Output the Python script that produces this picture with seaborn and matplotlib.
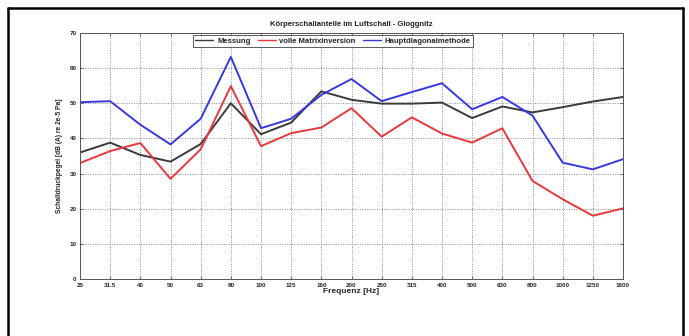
import matplotlib
matplotlib.use("Agg")
import matplotlib.pyplot as plt
from matplotlib.lines import Line2D
import seaborn as sns
import pandas as pd

# Terzband-Mittenfrequenzen
freq_labels = ["25", "31.5", "40", "50", "63", "80", "100", "125", "160", "200",
               "250", "315", "400", "500", "630", "800", "1000", "1250", "1600"]

messung = [36.0, 38.8, 35.3, 33.4, 38.4, 50.0, 41.2, 44.5, 53.4, 51.0,
           49.9, 49.9, 50.2, 45.8, 49.1, 47.4, 48.9, 50.5, 51.8]
matrixinversion = [33.0, 36.4, 38.7, 28.5, 36.9, 54.9, 37.8, 41.5, 43.1, 48.6,
                   40.5, 46.0, 41.4, 38.8, 42.9, 27.9, 22.7, 18.0, 20.1]
hauptdiagonal = [50.3, 50.6, 43.9, 38.3, 45.6, 63.2, 42.9, 45.6, 52.4, 56.9,
                 50.6, 53.2, 55.7, 48.3, 51.8, 46.5, 33.1, 31.2, 34.1]

series_names = ["Messung", "volle Matrixinversion", "Hauptdiagonalmethode"]
series_colors = ["#3a3a3a", "#e8383c", "#3838e0"]

pos = list(range(len(freq_labels)))
df = pd.DataFrame({
    "pos": pos * 3,
    "Pegel": messung + matrixinversion + hauptdiagonal,
    "Reihe": [series_names[0]] * len(pos) + [series_names[1]] * len(pos)
             + [series_names[2]] * len(pos),
})

sns.set_theme(style="white")
plt.rcParams["font.family"] = ["Liberation Sans", "DejaVu Sans"]

fig = plt.figure(figsize=(6.89, 3.36), dpi=100)
fig.patch.set_facecolor("white")
ax = fig.add_axes([80 / 689, 1 - 279 / 336, 543 / 689, 246 / 336])

sns.lineplot(data=df, x="pos", y="Pegel", hue="Reihe", hue_order=series_names,
             palette=series_colors, linewidth=1.4, ax=ax, legend=False)

ax.set_xlim(0, len(freq_labels) - 1)
ax.set_ylim(0, 70)
ax.set_xticks(pos)
ax.set_xticklabels(freq_labels, fontsize=4.5, fontweight="bold")
ax.set_yticks(range(0, 71, 10))
ax.set_yticklabels([str(v) for v in range(0, 71, 10)], fontsize=4.5, fontweight="bold")
ax.tick_params(axis="both", length=2, width=0.5, color="#444444")
ax.tick_params(axis="x", direction="in", top=True, bottom=True, pad=3)
ax.tick_params(axis="y", direction="in", left=True, right=True, pad=2.5)
ax.grid(True, linestyle=(0, (1.0, 1.5)), linewidth=0.7, color="#8a8a8a")
for s in ax.spines.values():
    s.set_color("#555555")
    s.set_linewidth(0.7)

ax.set_xlabel("Frequenz [Hz]", fontsize=6, fontweight="bold", labelpad=0)
ax.set_ylabel("Schalldruckpegel [dB (A) re 2e-5 Pa]", fontsize=4.8,
              fontweight="bold", labelpad=5)
ax.set_title("Körperschallanteile im Luftschall - Gloggnitz", fontsize=5.5,
             fontweight="bold", pad=5, color="#222222")

handles = [Line2D([0], [0], color=c, linewidth=1.0) for c in series_colors]
leg = ax.legend(handles, series_names, loc="upper center", ncol=3,
                bbox_to_anchor=(0.466, 1.0), frameon=True,
                fancybox=False, edgecolor="#333333", handlelength=2.3,
                columnspacing=0.9, handletextpad=0.5, borderpad=0.3,
                borderaxespad=0.25, prop={"size": 5.6, "weight": "bold"})
leg.get_frame().set_linewidth(0.7)

# Rahmen um die Abbildung (oben, links, rechts)
frame_kw = dict(color="black", linewidth=1.8, transform=fig.transFigure)
x0, x1 = 7.5 / 689, 682.5 / 689
y_top = 1 - 7.5 / 336
fig.add_artist(Line2D([x0, x1], [y_top, y_top], **frame_kw))
fig.add_artist(Line2D([x0, x0], [0, y_top], **frame_kw))
fig.add_artist(Line2D([x1, x1], [0, y_top], **frame_kw))

fig.savefig("out.png", dpi=100, facecolor="white")
